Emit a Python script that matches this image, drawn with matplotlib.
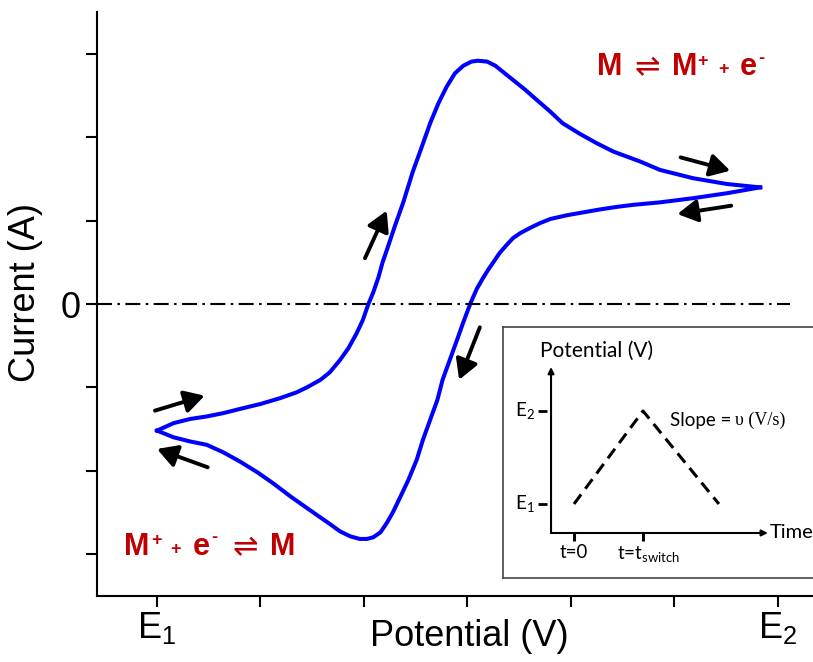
import numpy as np
import matplotlib.pyplot as plt
from matplotlib.markers import TICKLEFT, TICKDOWN

plt.rcParams['font.family'] = ['Liberation Sans', 'DejaVu Sans']
plt.rcParams['mathtext.fontset'] = 'custom'
plt.rcParams['mathtext.rm'] = 'Liberation Sans'
plt.rcParams['mathtext.it'] = 'Liberation Sans:italic'
plt.rcParams['mathtext.bf'] = 'Liberation Sans:bold'

# forward scan E1 -> E2 (potential and current in tick units)
fwd_E = [0.0, 0.16, 0.32, 0.48, 0.64, 0.80, 1.00, 1.19, 1.35, 1.45,
         1.58, 1.67, 1.77, 1.85, 1.93, 1.99, 2.04, 2.09, 2.14, 2.18,
         2.23, 2.30, 2.38, 2.47, 2.56, 2.64, 2.72, 2.80, 2.88, 2.96,
         3.04, 3.10, 3.19, 3.27, 3.34, 3.44, 3.56, 3.67, 3.80, 3.92,
         4.09, 4.25, 4.41, 4.67, 4.86, 5.18, 5.51, 5.83]
fwd_I = [-1.52, -1.43, -1.38, -1.35, -1.31, -1.26, -1.20, -1.13, -1.06, -1.00,
         -0.91, -0.82, -0.67, -0.53, -0.35, -0.19, -0.01, 0.14, 0.32, 0.50,
         0.68, 0.94, 1.22, 1.58, 1.89, 2.17, 2.41, 2.61, 2.77, 2.86,
         2.91, 2.92, 2.91, 2.86, 2.79, 2.69, 2.57, 2.45, 2.31, 2.17,
         2.04, 1.93, 1.83, 1.71, 1.61, 1.51, 1.44, 1.40]
# reverse scan E2 -> E1
rev_E = [5.83, 5.51, 5.18, 4.86, 4.60, 4.44, 4.28, 4.12, 3.96, 3.80,
         3.70, 3.60, 3.51, 3.44, 3.38, 3.31, 3.25, 3.20, 3.15, 3.09,
         3.03, 2.96, 2.90, 2.83, 2.76, 2.71, 2.64, 2.57, 2.51, 2.43,
         2.35, 2.28, 2.22, 2.16, 2.09, 2.03, 1.96, 1.87, 1.77, 1.67,
         1.60, 1.45, 1.29, 1.12, 0.97, 0.80, 0.64, 0.48, 0.32, 0.16, 0.0]
rev_I = [1.40, 1.33, 1.27, 1.22, 1.19, 1.165, 1.135, 1.10, 1.065, 1.02,
         0.97, 0.91, 0.85, 0.79, 0.71, 0.61, 0.50, 0.41, 0.31, 0.18,
         0.01, -0.22, -0.43, -0.67, -0.91, -1.15, -1.39, -1.63, -1.87, -2.11,
         -2.32, -2.50, -2.63, -2.74, -2.80, -2.82, -2.82, -2.79, -2.73, -2.64,
         -2.58, -2.45, -2.31, -2.15, -2.02, -1.89, -1.78, -1.69, -1.65, -1.60, -1.52]

# scan direction arrows (start -> end)
arrow_x0 = [-0.02, 0.49, 2.01, 3.12, 5.06, 5.55]
arrow_y0 = [-1.28, -1.96, 0.55, -0.28, 1.76, 1.18]
arrow_x1 = [0.46, 0.0, 2.22, 2.92, 5.54, 5.03]
arrow_y1 = [-1.10, -1.74, 1.12, -0.91, 1.60, 1.08]

x_ticks = [0, 1, 2, 3, 4, 5, 6]
x_labels = [r'E$_\mathregular{1}$', '', '', '', '', '', r'E$_\mathregular{2}$']
y_ticks = [-3, -2, -1, 0, 1, 2, 3]
y_labels = ['', '', '', '0', '', '', '']

# inset: triangular potential waveform
ramp_t = [0, 1, 2.1]
ramp_E = [0, 1, 0]
inset_E_ticks = [0, 1]
inset_E_labels = [r'E$_\mathregular{1}$', r'E$_\mathregular{2}$']
inset_t_ticks = [0, 1]
inset_t_labels = ['t=0', r't=t$_\mathregular{switch}$']

W, H = 813, 662
RED = '#c00000'

fig = plt.figure(figsize=(W / 100, H / 100), dpi=100)
ax = fig.add_axes([97 / W, (H - 596) / H, (W - 97) / W, (596 - 12) / H])


def put(x, y, s, **kw):
    # place text by pixel position (origin top-left)
    return fig.text(x / W, 1 - y / H, s, **kw)


ax.plot(fwd_E, fwd_I, color='#0000ff', lw=2.9, solid_joinstyle='round')
ax.plot(rev_E, rev_I, color='#0000ff', lw=2.9, solid_joinstyle='round')
ax.hlines(0, -0.58, 6.12, color='k', lw=1.5, linestyles=[(0, (7.2, 2.6, 1.2, 2.6))])

for x0, y0, x1, y1 in zip(arrow_x0, arrow_y0, arrow_x1, arrow_y1):
    ax.annotate('', xy=(x1, y1), xytext=(x0, y0),
                arrowprops=dict(arrowstyle='-|>,head_length=0.6,head_width=0.34',
                                lw=2.8, color='k', shrinkA=0, shrinkB=0, mutation_scale=20))

ax.set_xlim(-0.58, 6.34)
ax.set_ylim(-3.505, 3.505)
ax.set_xticks(x_ticks)
ax.set_xticklabels(x_labels, fontsize=26)
ax.set_yticks(y_ticks)
ax.set_yticklabels(y_labels, fontsize=26)
ax.tick_params(direction='out', length=8, width=1.5, pad=2)
ax.tick_params(axis='y', pad=4)
for side in ['top', 'right']:
    ax.spines[side].set_visible(False)
for side in ['left', 'bottom']:
    ax.spines[side].set_linewidth(1.5)

ax.set_xlabel('Potential (V)', fontsize=26)
ax.xaxis.set_label_coords(0.52, -0.04)
ax.set_ylabel('Current (A)', fontsize=26)
ax.yaxis.set_label_coords(-0.076, 0.52)

# reaction equations
top_eq = [('M', 597, 75, 22, 'bold'), ('\u21cc', 634, 76, 22, 'normal'), ('M', 672, 75, 22, 'bold'),
          ('+', 697, 66, 13, 'bold'), ('+', 718, 74, 13, 'bold'), ('e', 740, 75, 22, 'bold'),
          ('-', 758, 63, 13, 'bold')]
bot_eq = [('M', 124, 555, 22, 'bold'), ('+', 151, 545, 13, 'bold'), ('+', 170, 554, 13, 'bold'),
          ('e', 193, 555, 22, 'bold'), ('-', 211, 542, 13, 'bold'), ('\u21cc', 232, 556, 22, 'normal'),
          ('M', 270, 555, 22, 'bold')]
for s, x, y, size, weight in top_eq + bot_eq:
    fam = 'DejaVu Sans' if s == '\u21cc' else 'Liberation Sans'
    put(x, y, s, fontsize=size, fontweight=weight, color=RED, family=fam,
        ha='left', va='baseline')

# inset
ins = fig.add_axes([503 / W, (H - 578) / H, (822 - 503) / W, (578 - 327) / H])
ins.set_xlim(-1.029, 3.594)
ins.set_ylim(-0.796, 1.903)
ins.set_xticks([])
ins.set_yticks([])
for sp in ins.spines.values():
    sp.set_color('#444444')
    sp.set_linewidth(1.2)

ax_x, ax_y = -0.333, -0.312
ins.plot(ramp_t, ramp_E, color='k', lw=2.2, ls=(0, (3.9, 2.3)))
ins.annotate('', xy=(ax_x, 1.473), xytext=(ax_x, ax_y),
             arrowprops=dict(arrowstyle='-|>', lw=1.5, color='k', shrinkA=0, shrinkB=0, mutation_scale=9))
ins.annotate('', xy=(2.81, ax_y), xytext=(ax_x, ax_y),
             arrowprops=dict(arrowstyle='-|>', lw=1.5, color='k', shrinkA=0, shrinkB=0, mutation_scale=9))
ins.plot([-0.39] * len(inset_E_ticks), inset_E_ticks, ls='none', marker=TICKLEFT,
         ms=6.5, mew=2, color='k')
ins.plot(inset_t_ticks, [ax_y] * len(inset_t_ticks), ls='none', marker=TICKDOWN,
         ms=6, mew=2.2, color='k')

ifont = ['Lato', 'DejaVu Sans']
for e, lab in zip(inset_E_ticks, inset_E_labels):
    ins.text(-0.565, e, lab, fontsize=13.5, family=ifont, ha='right', va='center')
for t, lab in zip(inset_t_ticks, inset_t_labels):
    ins.text(t + (0.08 if t else 0), -0.43, lab, fontsize=13.5, family=ifont, ha='center', va='top')
ins.text(-0.49, 1.58, 'Potential (V)', fontsize=15, family=ifont, ha='left', va='baseline')
ins.text(2.84, ax_y, 'Time', fontsize=14.5, family=ifont, ha='left', va='center')
ins.text(1.39, 0.90, 'Slope =', fontsize=13.5, family=ifont, ha='left', va='center')
ins.text(2.33, 0.90, '\u03c5 (V/s)', fontsize=13, family=['Liberation Serif', 'DejaVu Serif'],
         ha='left', va='center')

fig.savefig('out.png', dpi=100)
